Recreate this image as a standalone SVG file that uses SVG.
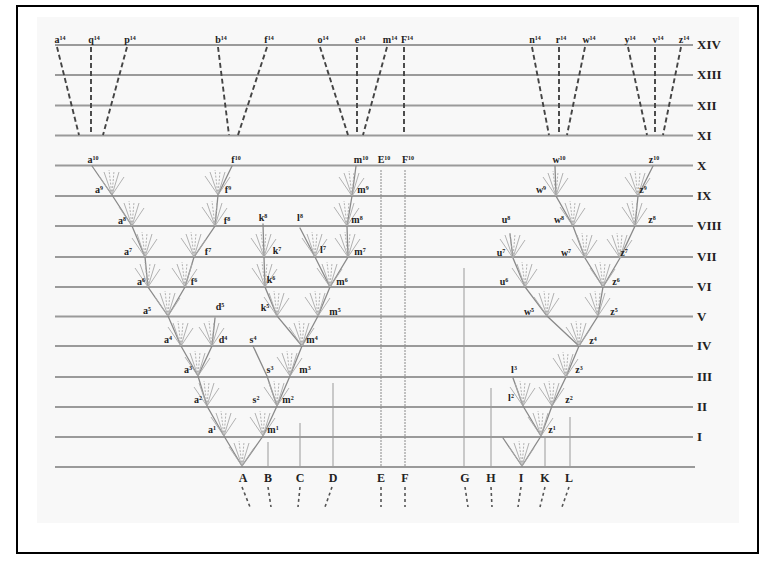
<svg xmlns="http://www.w3.org/2000/svg" xmlns:xlink="http://www.w3.org/1999/xlink" width="761" height="564" viewBox="0 0 761 564">
<style>
.gl{stroke:#9a9a9a;stroke-width:2;fill:none}
.br{stroke:#8a8a8a;stroke-width:1.3;fill:none;stroke-linecap:round}
.ray{stroke:#a8a8a8;stroke-width:0.9;fill:none}
.rd{stroke:#a8a8a8;stroke-width:0.9;fill:none;stroke-dasharray:2 1.5}
.vt{stroke:#9a9a9a;stroke-width:1;fill:none}
.vd{stroke:#8a8a8a;stroke-width:1;fill:none;stroke-dasharray:2 1}
.ds{stroke:#444;stroke-width:1.9;fill:none;stroke-dasharray:5 3}
.dsb{stroke:#555;stroke-width:1.6;fill:none;stroke-dasharray:3 3}
.lb{font-family:"Liberation Serif","DejaVu Serif",serif;font-weight:bold;font-size:10px;fill:#222;text-anchor:middle}
.sp{font-size:6px}
.rn{font-family:"Liberation Serif","DejaVu Serif",serif;font-weight:bold;font-size:13px;fill:#222}
.lt{font-family:"Liberation Serif","DejaVu Serif",serif;font-weight:bold;font-size:12px;fill:#222;text-anchor:middle}
</style>
<defs>
<g id="fan">
<path class="ray" d="M0,0 L-13,-19 M0,0 L-8,-23 M0,0 L7,-23 M0,0 L12,-18"/>
<path class="rd" d="M0,0 L-3,-25 M0,0 L2,-24"/>
</g>
</defs>
<rect x="0" y="0" width="761" height="564" fill="#fff"/>
<rect x="17" y="6" width="741" height="547" fill="#fff" stroke="#000" stroke-width="2"/>
<rect x="37" y="17" width="702" height="506" fill="#f8f8f8"/>

<g id="generations">
<path class="gl" d="M55,45H693M55,75H693M55,105.5H693M55,135.5H693M55,165.5H693M55,196H693M55,226H693M55,257H693M55,287H693M55,316.5H693M55,346H693M55,377H693M55,407H693M55,437H693M55,467H695"/>
<text class="rn" x="697" y="49">XIV</text>
<text class="rn" x="697" y="79">XIII</text>
<text class="rn" x="697" y="110">XII</text>
<text class="rn" x="697" y="140">XI</text>
<text class="rn" x="697" y="170">X</text>
<text class="rn" x="697" y="200">IX</text>
<text class="rn" x="697" y="230">VIII</text>
<text class="rn" x="697" y="261">VII</text>
<text class="rn" x="697" y="291">VI</text>
<text class="rn" x="697" y="321">V</text>
<text class="rn" x="697" y="350">IV</text>
<text class="rn" x="697" y="381">III</text>
<text class="rn" x="697" y="411">II</text>
<text class="rn" x="697" y="441">I</text>
</g>

<g id="connectors">
<path class="br" d="M242,466 L224,436 L207,406 L198,376 L181,346 L168,316 L148,287 L145,257 L132,226 L112,195 L92,166"/>
<path class="br" d="M198,376 L212,346 L215,318"/>
<path class="br" d="M168,316 L185,287 L194,257 L215,226 L218,195 L232,166"/>
<path class="br" d="M242,466 L263,436 L277,406 L290,376 L302,346 L318,316 L330,287 L348,257 L347,226 L352,196 L356,166"/>
<path class="br" d="M277,406 L267,376 L253,346"/>
<path class="br" d="M302,346 L277,316 L265,287 L264,257 L263,224"/>
<path class="br" d="M330,287 L315,257 L300,228"/>
<path class="br" d="M522,466 L503,438"/>
<path class="br" d="M522,466 L541,436 L552,406 L566,377 L579,346 L598,316 L603,287 L620,258 L635,226 L638,196 L653,166"/>
<path class="br" d="M541,436 L523,406 L513,378"/>
<path class="br" d="M579,346 L547,316 L525,287 L513,258 L510,234"/>
<path class="br" d="M603,287 L585,258 L573,226 L556,196 L555,166"/>
<path class="vt" d="M268,442V467M300,423V467M333,383V467M464,268V467M491,388V467M545,438V467M570,417V467"/>
<path class="vd" d="M381,170V467M405,170V467"/>
<path class="ds" d="M57,47L79,135M91,47L91,135M127,47L103,135M218,47L229,135M267,47L238,135M320,47L348,135M357,47L357,135M387,47L363,135M404,47L404,135M532,47L549,135M559,47L559,135M585,47L567,135M628,47L647,135M655,47L655,135M681,47L663,135"/>
<path class="dsb" d="M242,487L250,507M268,487L271,507M300,487L298,507M332,487L325,507M381,487L381,507M405,487L405,507M465,487L468,507M491,487L492,507M521,487L518,507M545,487L540,507M569,487L562,507"/>
</g>

<g id="fans">
<use href="#fan" x="242" y="466"/><use href="#fan" x="224" y="436"/><use href="#fan" x="263" y="436"/>
<use href="#fan" x="207" y="406"/><use href="#fan" x="277" y="406"/>
<use href="#fan" x="198" y="376"/><use href="#fan" x="290" y="376"/>
<use href="#fan" x="181" y="346"/><use href="#fan" x="212" y="346"/><use href="#fan" x="302" y="346"/>
<use href="#fan" x="168" y="316"/><use href="#fan" x="318" y="316"/><use href="#fan" x="277" y="316"/>
<use href="#fan" x="148" y="287"/><use href="#fan" x="185" y="287"/><use href="#fan" x="265" y="287"/><use href="#fan" x="330" y="287"/>
<use href="#fan" x="145" y="257"/><use href="#fan" x="194" y="257"/><use href="#fan" x="264" y="257"/><use href="#fan" x="315" y="257"/><use href="#fan" x="348" y="257"/>
<use href="#fan" x="132" y="226"/><use href="#fan" x="215" y="226"/><use href="#fan" x="347" y="226"/>
<use href="#fan" x="112" y="195"/><use href="#fan" x="218" y="195"/><use href="#fan" x="352" y="196"/>
<use href="#fan" x="522" y="466"/><use href="#fan" x="541" y="436"/><use href="#fan" x="523" y="406"/><use href="#fan" x="552" y="406"/>
<use href="#fan" x="566" y="377"/><use href="#fan" x="579" y="346"/>
<use href="#fan" x="547" y="316"/><use href="#fan" x="598" y="316"/>
<use href="#fan" x="525" y="287"/><use href="#fan" x="603" y="287"/>
<use href="#fan" x="513" y="258"/><use href="#fan" x="585" y="258"/><use href="#fan" x="620" y="258"/>
<use href="#fan" x="573" y="226"/><use href="#fan" x="635" y="226"/>
<use href="#fan" x="556" y="196"/><use href="#fan" x="638" y="196"/>
</g>

<g id="species-A"><text class="lt" x="243" y="482">A</text></g>
<g id="species-B"><text class="lt" x="268" y="482">B</text></g>
<g id="species-C"><text class="lt" x="300" y="482">C</text></g>
<g id="species-D"><text class="lt" x="333" y="482">D</text></g>
<g id="species-E"><text class="lt" x="381" y="482">E</text></g>
<g id="species-F"><text class="lt" x="405" y="482">F</text></g>
<g id="species-G"><text class="lt" x="465" y="482">G</text></g>
<g id="species-H"><text class="lt" x="491" y="482">H</text></g>
<g id="species-I"><text class="lt" x="521" y="482">I</text></g>
<g id="species-K"><text class="lt" x="545" y="482">K</text></g>
<g id="species-L"><text class="lt" x="569" y="482">L</text></g>

<g id="labels-left">
<text class="lb" x="212" y="433">a<tspan class="sp" dy="-3">1</tspan></text><text class="lb" x="273" y="433">m<tspan class="sp" dy="-3">1</tspan></text>
<text class="lb" x="198" y="403">a<tspan class="sp" dy="-3">2</tspan></text><text class="lb" x="256" y="403">s<tspan class="sp" dy="-3">2</tspan></text><text class="lb" x="288" y="403">m<tspan class="sp" dy="-3">2</tspan></text>
<text class="lb" x="188" y="373">a<tspan class="sp" dy="-3">3</tspan></text><text class="lb" x="270" y="373">s<tspan class="sp" dy="-3">3</tspan></text><text class="lb" x="305" y="373">m<tspan class="sp" dy="-3">3</tspan></text>
<text class="lb" x="168" y="343">a<tspan class="sp" dy="-3">4</tspan></text><text class="lb" x="223" y="343">d<tspan class="sp" dy="-3">4</tspan></text><text class="lb" x="253" y="343">s<tspan class="sp" dy="-3">4</tspan></text><text class="lb" x="312" y="343">m<tspan class="sp" dy="-3">4</tspan></text>
<text class="lb" x="147" y="314">a<tspan class="sp" dy="-3">5</tspan></text><text class="lb" x="220" y="310">d<tspan class="sp" dy="-3">5</tspan></text><text class="lb" x="265" y="311">k<tspan class="sp" dy="-3">5</tspan></text><text class="lb" x="335" y="315">m<tspan class="sp" dy="-3">5</tspan></text>
<text class="lb" x="141" y="285">a<tspan class="sp" dy="-3">6</tspan></text><text class="lb" x="194" y="285">f<tspan class="sp" dy="-3">6</tspan></text><text class="lb" x="271" y="283">k<tspan class="sp" dy="-3">6</tspan></text><text class="lb" x="342" y="285">m<tspan class="sp" dy="-3">6</tspan></text>
<text class="lb" x="128" y="255">a<tspan class="sp" dy="-3">7</tspan></text><text class="lb" x="208" y="255">f<tspan class="sp" dy="-3">7</tspan></text><text class="lb" x="277" y="254">k<tspan class="sp" dy="-3">7</tspan></text><text class="lb" x="323" y="253">l<tspan class="sp" dy="-3">7</tspan></text><text class="lb" x="360" y="255">m<tspan class="sp" dy="-3">7</tspan></text>
<text class="lb" x="122" y="224">a<tspan class="sp" dy="-3">8</tspan></text><text class="lb" x="227" y="224">f<tspan class="sp" dy="-3">8</tspan></text><text class="lb" x="263" y="221">k<tspan class="sp" dy="-3">8</tspan></text><text class="lb" x="300" y="221">l<tspan class="sp" dy="-3">8</tspan></text><text class="lb" x="357" y="223">m<tspan class="sp" dy="-3">8</tspan></text>
<text class="lb" x="99" y="193">a<tspan class="sp" dy="-3">9</tspan></text><text class="lb" x="228" y="193">f<tspan class="sp" dy="-3">9</tspan></text><text class="lb" x="363" y="193">m<tspan class="sp" dy="-3">9</tspan></text>
<text class="lb" x="93" y="163">a<tspan class="sp" dy="-3">10</tspan></text><text class="lb" x="236" y="163">f<tspan class="sp" dy="-3">10</tspan></text><text class="lb" x="361" y="163">m<tspan class="sp" dy="-3">10</tspan></text><text class="lb" x="384" y="163">E<tspan class="sp" dy="-3">10</tspan></text><text class="lb" x="408" y="163">F<tspan class="sp" dy="-3">10</tspan></text>
</g>

<g id="labels-right">
<text class="lb" x="552" y="433">z<tspan class="sp" dy="-3">1</tspan></text>
<text class="lb" x="511" y="401">l<tspan class="sp" dy="-3">2</tspan></text><text class="lb" x="569" y="403">z<tspan class="sp" dy="-3">2</tspan></text>
<text class="lb" x="514" y="373">l<tspan class="sp" dy="-3">3</tspan></text><text class="lb" x="579" y="373">z<tspan class="sp" dy="-3">3</tspan></text>
<text class="lb" x="593" y="344">z<tspan class="sp" dy="-3">4</tspan></text>
<text class="lb" x="529" y="315">w<tspan class="sp" dy="-3">5</tspan></text><text class="lb" x="614" y="315">z<tspan class="sp" dy="-3">5</tspan></text>
<text class="lb" x="504" y="285">u<tspan class="sp" dy="-3">6</tspan></text><text class="lb" x="616" y="285">z<tspan class="sp" dy="-3">6</tspan></text>
<text class="lb" x="501" y="256">u<tspan class="sp" dy="-3">7</tspan></text><text class="lb" x="566" y="256">w<tspan class="sp" dy="-3">7</tspan></text><text class="lb" x="624" y="256">z<tspan class="sp" dy="-3">7</tspan></text>
<text class="lb" x="506" y="223">u<tspan class="sp" dy="-3">8</tspan></text><text class="lb" x="559" y="223">w<tspan class="sp" dy="-3">8</tspan></text><text class="lb" x="652" y="223">z<tspan class="sp" dy="-3">8</tspan></text>
<text class="lb" x="541" y="193">w<tspan class="sp" dy="-3">9</tspan></text><text class="lb" x="643" y="193">z<tspan class="sp" dy="-3">9</tspan></text>
<text class="lb" x="559" y="163">w<tspan class="sp" dy="-3">10</tspan></text><text class="lb" x="654" y="163">z<tspan class="sp" dy="-3">10</tspan></text>
</g>

<g id="labels-top">
<text class="lb" x="60" y="43">a<tspan class="sp" dy="-3">14</tspan></text><text class="lb" x="94" y="43">q<tspan class="sp" dy="-3">14</tspan></text><text class="lb" x="130" y="43">p<tspan class="sp" dy="-3">14</tspan></text>
<text class="lb" x="221" y="43">b<tspan class="sp" dy="-3">14</tspan></text><text class="lb" x="269" y="43">f<tspan class="sp" dy="-3">14</tspan></text>
<text class="lb" x="323" y="43">o<tspan class="sp" dy="-3">14</tspan></text><text class="lb" x="360" y="43">e<tspan class="sp" dy="-3">14</tspan></text><text class="lb" x="390" y="43">m<tspan class="sp" dy="-3">14</tspan></text><text class="lb" x="407" y="43">F<tspan class="sp" dy="-3">14</tspan></text>
<text class="lb" x="535" y="43">n<tspan class="sp" dy="-3">14</tspan></text><text class="lb" x="561" y="43">r<tspan class="sp" dy="-3">14</tspan></text><text class="lb" x="589" y="43">w<tspan class="sp" dy="-3">14</tspan></text>
<text class="lb" x="630" y="43">y<tspan class="sp" dy="-3">14</tspan></text><text class="lb" x="658" y="43">v<tspan class="sp" dy="-3">14</tspan></text><text class="lb" x="684" y="43">z<tspan class="sp" dy="-3">14</tspan></text>
</g>
</svg>
